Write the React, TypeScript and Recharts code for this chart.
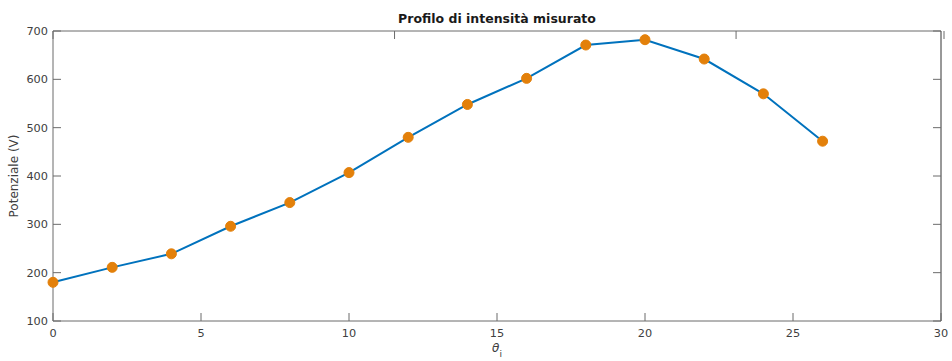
import { LineChart, Line, XAxis, YAxis } from 'recharts';

const angles = [0, 2, 4, 6, 8, 10, 12, 14, 16, 18, 20, 22, 24, 26];
const potential = [180, 211, 239, 296, 345, 407, 480, 548, 602, 671, 682, 642, 570, 472];
const xTicks = [0, 5, 10, 15, 20, 25, 30];
const yTicks = [100, 200, 300, 400, 500, 600, 700];

const data = angles.map((a, i) => ({ x: a, v: potential[i] }));

const FONT = '"DejaVu Sans", sans-serif';
const AXIS = '#6b6b6b';
const TEXT = '#404040';
const TICK_LEN = 8;

function LeftTick(props: any) {
  const { x, y, payload } = props;
  return (
    <g>
      <line x1={x + 5} y1={y} x2={x + 5 + TICK_LEN} y2={y} stroke={AXIS} />
      <text x={x} y={y} dy={4} textAnchor="end" fontSize={11.3} fill={TEXT} fontFamily={FONT}>
        {payload.value}
      </text>
    </g>
  );
}

function RightTick(props: any) {
  const { x, y } = props;
  return <line x1={x - 5} y1={y} x2={x - 5 - TICK_LEN} y2={y} stroke={AXIS} />;
}

function BottomTick(props: any) {
  const { x, y, payload } = props;
  return (
    <g>
      <line x1={x} y1={y - 6} x2={x} y2={y - 6 - TICK_LEN} stroke={AXIS} />
      <text x={x} y={y} dy={10} textAnchor="middle" fontSize={11.3} fill={TEXT} fontFamily={FONT}>
        {payload.value}
      </text>
    </g>
  );
}

function TopTick(props: any) {
  const { x, y } = props;
  return <line x1={x} y1={y + 6} x2={x} y2={y + 6 + TICK_LEN} stroke={AXIS} />;
}

function XTitle(props: any) {
  const vb = props.viewBox;
  const cx = vb.x + vb.width / 2;
  return (
    <text x={cx} y={vb.y + 31} textAnchor="middle" fontSize={12} fill={TEXT} fontFamily={FONT}>
      <tspan fontStyle="italic">θ</tspan>
      <tspan fontSize={9} dy={5}>i</tspan>
    </text>
  );
}

function YTitle(props: any) {
  const vb = props.viewBox;
  const cy = vb.y + vb.height / 2;
  return (
    <text
      x={18}
      y={cy}
      transform={`rotate(-90 18 ${cy})`}
      textAnchor="middle"
      fontSize={12}
      fill={TEXT}
      fontFamily={FONT}
    >
      Potenziale (V)
    </text>
  );
}

function ChartTitle(props: any) {
  const vb = props.viewBox;
  const cx = vb.x + vb.width / 2;
  return (
    <text x={cx} y={23} textAnchor="middle" fontSize={12.5} fontWeight="bold" fill="#1a1a1a" fontFamily={FONT}>
      Profilo di intensità misurato
    </text>
  );
}

export default function App() {
  return (
    <div style={{ position: 'absolute', left: 0, top: 0, width: 952, height: 361, background: '#fff' }}>
      <LineChart width={952} height={361} data={data} margin={{ top: 0, right: 0, bottom: 0, left: 0 }}>
        <XAxis
          dataKey="x"
          type="number"
          domain={[0, 30]}
          ticks={xTicks}
          height={40}
          tickSize={0}
          tickMargin={6}
          tickLine={false}
          axisLine={{ stroke: AXIS }}
          tick={<BottomTick />}
          label={<XTitle />}
        />
        <XAxis
          xAxisId="top"
          orientation="top"
          type="number"
          domain={[0, 30]}
          allowDataOverflow
          ticks={xTicks}
          height={31}
          tickSize={0}
          tickMargin={6}
          tickLine={false}
          axisLine={{ stroke: AXIS }}
          tick={<TopTick />}
          label={<ChartTitle />}
        />
        <YAxis
          type="number"
          domain={[100, 700]}
          ticks={yTicks}
          width={53}
          tickSize={0}
          tickMargin={5}
          tickLine={false}
          axisLine={{ stroke: AXIS }}
          tick={<LeftTick />}
          label={<YTitle />}
        />
        <YAxis
          yAxisId="right"
          orientation="right"
          type="number"
          domain={[100, 700]}
          allowDataOverflow
          ticks={yTicks}
          width={11}
          tickSize={0}
          tickMargin={5}
          tickLine={false}
          axisLine={{ stroke: '#333' }}
          tick={<RightTick />}
        />
        <Line
          dataKey="v"
          type="linear"
          stroke="#0072BD"
          strokeWidth={2}
          dot={{ r: 5, fill: '#E3800A', stroke: '#E3800A', strokeWidth: 1 }}
          isAnimationActive={false}
        />
      </LineChart>
    </div>
  );
}
